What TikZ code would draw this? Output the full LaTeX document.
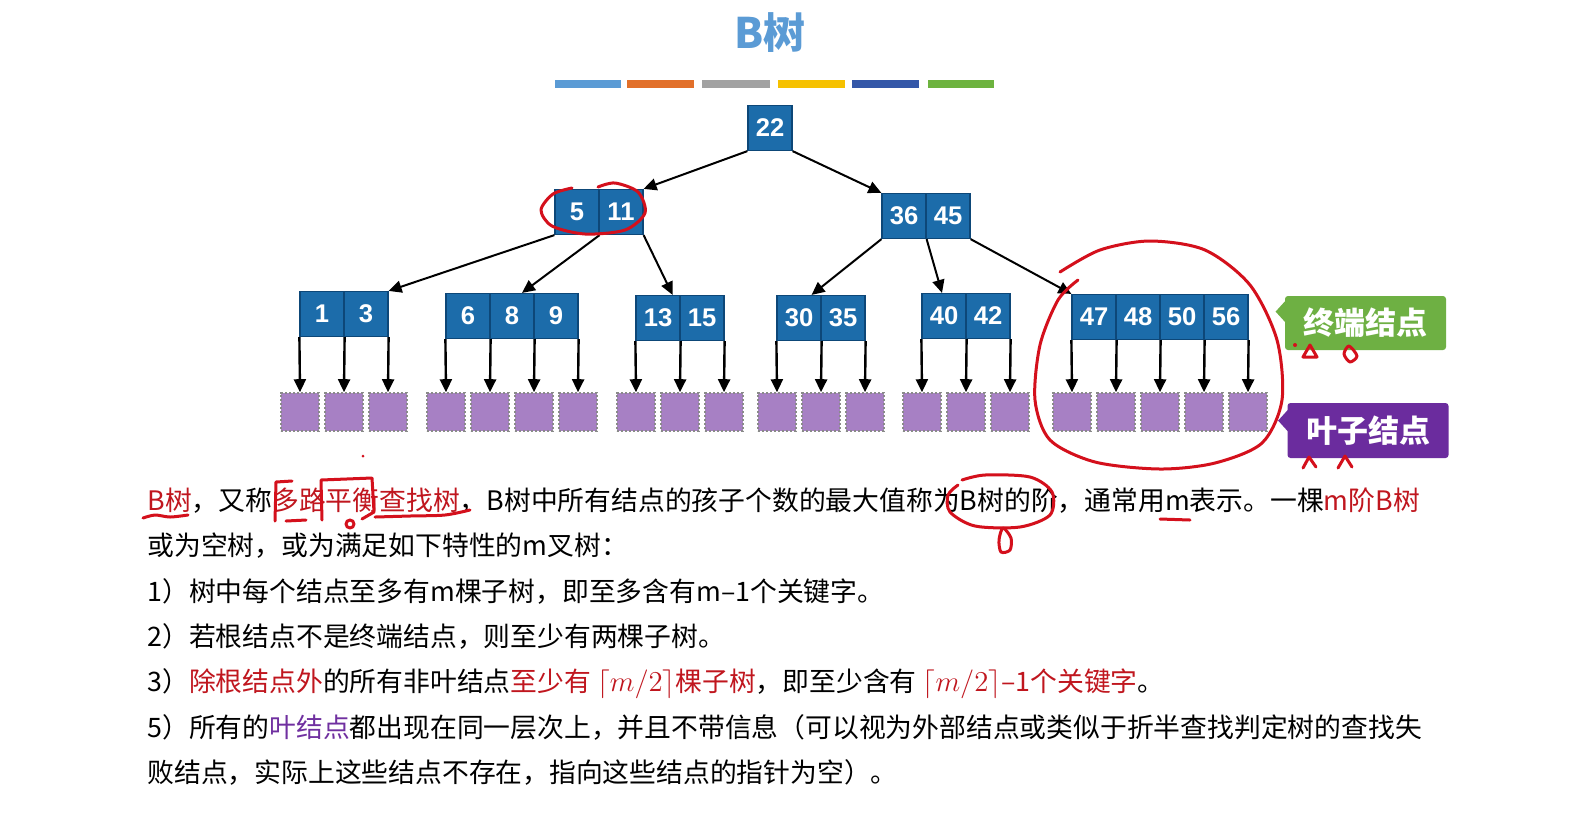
\documentclass[tikz,border=0pt]{standalone}
\usepackage{fontspec}
\setmainfont{Noto Sans CJK SC}
\newfontfamily\numfont{Liberation Sans}
\usetikzlibrary{arrows.meta,calc}
\definecolor{keyblue}{HTML}{1C6CAA}
\definecolor{keyedge}{HTML}{0D4778}
\definecolor{leafpurple}{HTML}{A780C4}
\definecolor{leafedge}{HTML}{8A8A8A}
\definecolor{termgreen}{HTML}{6EB043}
\definecolor{leafboxc}{HTML}{6B2C9E}
\definecolor{titleblue}{HTML}{5B9BD5}
\definecolor{txtred}{HTML}{C0161E}
\definecolor{txtpurple}{HTML}{7030A0}
\definecolor{penred}{HTML}{D4101C}
\definecolor{barA}{HTML}{5B9BD5}
\definecolor{barB}{HTML}{E2702A}
\definecolor{barC}{HTML}{A2A2A2}
\definecolor{barD}{HTML}{F6C100}
\definecolor{barE}{HTML}{3457A8}
\definecolor{barF}{HTML}{6DB33F}
\newcommand\bnode[4]{%
  \foreach \k [count=\i] in {#4} {\node[keycell] (#1-\i) at ({#2+44*\i-22},#3) {\k};}%
}
\newcommand\bleaves[3]{%
  \foreach \j in {0,...,#3} {\node[leafcell] (#1-L\j) at ({#2+44*\j},412) {};}%
  \draw[ptr] (#1-1.south west) -- (#1-L0.north);%
  \foreach \j in {1,...,#3} {\draw[ptr] (#1-\j.south east) -- (#1-L\j.north);}%
}
\tikzset{
  keycell/.style={draw=keyedge, line width=0.6pt, fill=keyblue, minimum width=22pt, minimum height=22.5pt, inner sep=0pt, text=white, font=\numfont\bfseries\fontsize{12.8}{12.8}\selectfont},
  leafcell/.style={draw=leafedge, dash pattern=on 1.2pt off 0.8pt, line width=0.8pt, fill=leafpurple, minimum size=19pt, inner sep=0pt},
  treearrow/.style={-{Triangle[length=6.5pt,width=6pt]}, line width=1pt, black},
  ptr/.style={treearrow, line width=1.2pt},
  txt/.style={anchor=base west, inner sep=0pt, font=\fontsize{13.4}{13.4}\selectfont},
  pen/.style={draw=penred, line width=1.5pt, line cap=round, line join=round},
  tag/.style={text=white, inner sep=0pt, rounded corners=1.5pt, minimum width=80.5pt, font=\fontsize{15.5}{15.5}\selectfont\bfseries}
}
\begin{document}
\begin{tikzpicture}[x=0.5pt,y=-0.5pt]
\useasboundingbox (0,0) rectangle (1575,827);
\fill[white] (0,0) rectangle (1575,827);
% title and colour bar
\node[font=\bfseries\fontsize{21}{21}\selectfont, text=titleblue] (title) at (770,33) {B树};
\fill[barA] (555,80) rectangle (621,88);
\fill[barB] (627,80) rectangle (694,88);
\fill[barC] (702,80) rectangle (770,88);
\fill[barD] (778,80) rectangle (845,88);
\fill[barE] (852,80) rectangle (919,88);
\fill[barF] (928,80) rectangle (994,88);
% tree nodes
\bnode{R}{748}{128}{22}
\bnode{B}{555}{212}{5,11}
\bnode{C}{882}{216}{36,45}
\bnode{D}{300}{314}{1,3}
\bnode{E}{446}{316}{6,8,9}
\bnode{F}{636}{318}{13,15}
\bnode{G}{777}{318}{30,35}
\bnode{H}{922}{316}{40,42}
\bnode{I}{1072}{317}{47,48,50,56}
% edges
\draw[treearrow] (R-1.south west) -- (B-2.north east);
\draw[treearrow] (R-1.south east) -- (C-1.north west);
\draw[treearrow] (B-1.south west) -- (D-2.north east);
\draw[treearrow] (B-1.south east) -- ([xshift=5pt]E-2.north);
\draw[treearrow] (B-2.south east) -- ([xshift=-4pt]F-1.north east);
\draw[treearrow] (C-1.south west) -- ([xshift=-5pt]G-1.north east);
\draw[treearrow] (C-1.south east) -- ([xshift=-1pt]H-1.north);
\draw[treearrow] (C-2.south east) -- (I-1.north west);
% leaves
\bleaves{D}{300}{2}
\bleaves{E}{446}{3}
\bleaves{F}{636}{2}
\bleaves{G}{777}{2}
\bleaves{H}{922}{2}
\bleaves{I}{1072}{4}
% labels
\node[tag, fill=termgreen, minimum height=27pt] (term) at (1365.5,323) {终端结点};
\fill[termgreen] ($(term.north west)+(1,5)$) -- ($(term.north west)+(-9,16)$) -- ($(term.north west)+(1,27)$) -- cycle;
\node[tag, fill=leafboxc, minimum height=27.5pt] (leafl) at (1368,430.5) {叶子结点};
\fill[leafboxc] ($(leafl.north west)+(1,7)$) -- ($(leafl.north west)+(-9,18)$) -- ($(leafl.north west)+(1,29)$) -- cycle;
% text
\node[txt] (l1) at (147,510) {\textcolor{txtred}{B树}，又称\textcolor{txtred}{多路平衡查找树}，B树中所有结点的孩子个数的最大值称为B树的阶，通常用m表示。一棵\textcolor{txtred}{m阶B树}};
\node[txt] (l2) at (147,555) {或为空树，或为满足如下特性的m叉树：};
\node[txt] (l3) at (147,601) {1）树中每个结点至多有m棵子树，即至多含有m–1个关键字。};
\node[txt] (l4) at (147,646) {2）若根结点不是终端结点，则至少有两棵子树。};
\node[txt] (l5) at (147,691) {3）\textcolor{txtred}{除根结点外}的所有非叶结点\textcolor{txtred}{至少有 $\lceil m/2\rceil$棵子树}，即至少含有 \textcolor{txtred}{$\lceil m/2\rceil$–1个关键字}。};
\node[txt] (l6) at (147,737) {5）所有的\textcolor{txtpurple}{叶结点}都出现在同一层次上，并且不带信息（可以视为外部结点或类似于折半查找判定树的查找失};
\node[txt] (l7) at (147,782) {败结点，实际上这些结点不存在，指向这些结点的指针为空）。};
% red pen annotations
\draw[pen] plot[smooth] coordinates {(572,188) (553,194) (541,210) (552,226) (585,234) (625,230) (645,213) (638,192) (615,183) (598,187)};
\draw[pen] plot[smooth] coordinates {(1060,272) (1100,250) (1150,241) (1205,250) (1250,285) (1277,340) (1282,400) (1262,443) (1215,463) (1160,469) (1095,462) (1050,440) (1035,400) (1040,345) (1058,300) (1078,280)};
\fill[penred] (1295,345) circle (2);
\draw[pen] (1303,357) -- (1310,345) -- (1317,357) -- cycle;
\draw[pen] plot[smooth cycle] coordinates {(1349,346) (1344,354) (1350,362) (1357,356)};
\draw[pen] (1303,468) -- (1309,457) -- (1316,467);
\draw[pen] (1338,468) -- (1345,456) -- (1352,467);
\fill[penred] (363,456) circle (1.5);
\draw[pen] plot[smooth] coordinates {(143,518) (155,515) (170,517) (188,515)};
\draw[pen] (292,481) -- (276,482) -- (275,521);
\draw[pen] (286,521) -- (306,520);
\draw[pen] (322,520) -- (321,480) -- (372,478) -- (374,512) -- (362,519);
\draw[pen] (350,524) circle (4);
\draw[pen] plot[smooth] coordinates {(375,517) (410,516) (445,515) (470,510)};
\draw[pen] plot[smooth] coordinates {(962,480) (985,475) (1030,477) (1052,492) (1050,515) (1020,527) (975,526) (950,512) (948,495) (958,485)};
\draw[pen] plot[smooth cycle] coordinates {(1003,528) (999,540) (1001,552) (1010,550) (1011,538)};
\draw[pen] (1160,519) -- (1190,520);
\end{tikzpicture}
\end{document}
